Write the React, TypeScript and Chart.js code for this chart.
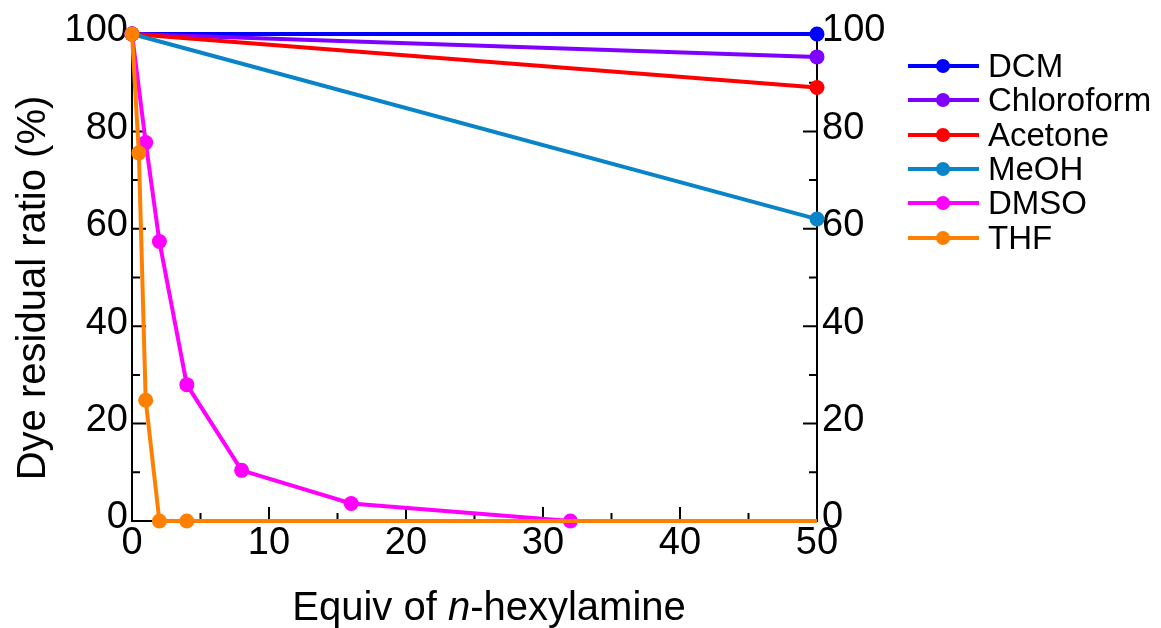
import React, { useEffect, useRef } from "react";
import { Chart, registerables } from "chart.js";
Chart.register(...registerables);

const FONT = "'Liberation Sans', Arial, sans-serif";

const seriesNames = ["DCM", "Chloroform", "Acetone", "MeOH", "DMSO", "THF"];
const seriesColors = ["#0000FF", "#8000FF", "#FF0000", "#0A84C8", "#FF00FF", "#FF8000"];

const dcmX = [0, 50];
const dcmY = [100, 100];
const chloroformX = [0, 50];
const chloroformY = [100, 95.3];
const acetoneX = [0, 50];
const acetoneY = [100, 89];
const meohX = [0, 50];
const meohY = [100, 62];
const dmsoX = [0, 1, 2, 4, 8, 16, 32];
const dmsoY = [100, 77.7, 57.4, 28, 10.4, 3.6, 0];
const thfX = [0, 0.5, 1, 2, 4, 50];
const thfY = [100, 75.6, 24.8, 0, 0, 0];
const thfRadius = [7.5, 7.5, 7.5, 7.5, 7.5, 0];

const seriesX = [dcmX, chloroformX, acetoneX, meohX, dmsoX, thfX];
const seriesY = [dcmY, chloroformY, acetoneY, meohY, dmsoY, thfY];

const xTickStep = 10;
const xMinorStep = 5;
const yTickStep = 20;
const yMinorStep = 10;

const xTitleMain = "Equiv of ";
const xTitleItalic = "n";
const xTitleRest = "-hexylamine";
const yTitle = "Dye residual ratio (%)";

const tickPlugin = {
  id: "inwardTicks",
  beforeDatasetsDraw(chart: any) {
    const ctx = chart.ctx;
    const x = chart.scales.x;
    const y = chart.scales.y;
    const area = chart.chartArea;
    ctx.save();
    ctx.strokeStyle = "#000";
    ctx.lineWidth = 2;
    ctx.beginPath();
    for (let v = xMinorStep; v < 50; v += xMinorStep) {
      const px = x.getPixelForValue(v);
      const len = v % xTickStep === 0 ? 14 : 8;
      ctx.moveTo(px, area.bottom);
      ctx.lineTo(px, area.bottom - len);
    }
    for (let v = yMinorStep; v < 100; v += yMinorStep) {
      const py = y.getPixelForValue(v);
      const len = v % yTickStep === 0 ? 14 : 8;
      ctx.moveTo(area.left, py);
      ctx.lineTo(area.left + len, py);
      ctx.moveTo(area.right, py);
      ctx.lineTo(area.right - len, py);
    }
    ctx.stroke();
    ctx.restore();
  },
};

function ChartCanvas() {
  const ref = useRef<HTMLCanvasElement | null>(null);
  useEffect(() => {
    if (!ref.current) return;
    const datasets = seriesNames.map((name, i) => ({
      label: name,
      data: seriesX[i].map((xv, j) => ({ x: xv, y: seriesY[i][j] })),
      borderColor: seriesColors[i],
      backgroundColor: seriesColors[i],
      pointBackgroundColor: seriesColors[i],
      pointBorderColor: seriesColors[i],
      borderWidth: 4,
      pointRadius: name === "THF" ? thfRadius : 7.5,
      pointHoverRadius: name === "THF" ? thfRadius : 7.5,
      pointBorderWidth: 0,
      tension: 0,
      clip: false as any,
      order: seriesNames.length - 1 - i,
    }));
    const tickFont = { size: 38, family: FONT };
    const chart = new Chart(ref.current, {
      type: "line",
      data: { datasets },
      plugins: [tickPlugin],
      options: {
        animation: false,
        responsive: false,
        events: [],
        layout: { padding: { left: 0, top: 34, right: 244, bottom: 0 } },
        plugins: { legend: { display: false }, tooltip: { enabled: false } },
        scales: {
          x: {
            type: "linear",
            position: "bottom",
            min: 0,
            max: 50,
            ticks: { stepSize: xTickStep, font: tickFont, color: "#000", padding: 0, maxRotation: 0, autoSkip: false },
            grid: { display: false, drawTicks: false },
            border: { display: true, color: "#000", width: 2 },
            afterFit: (s: any) => { s.height = 107; },
          },
          y: {
            type: "linear",
            position: "left",
            min: 0,
            max: 100,
            ticks: { stepSize: yTickStep, font: tickFont, color: "#000", padding: 4, labelOffset: -3 },
            grid: { display: false, drawTicks: false },
            border: { display: true, color: "#000", width: 2 },
            afterFit: (s: any) => { s.width = 132; },
          },
          y2: {
            type: "linear",
            position: "right",
            min: 0,
            max: 100,
            ticks: { stepSize: yTickStep, font: tickFont, color: "#000", padding: 5, labelOffset: -3 },
            grid: { display: false, drawTicks: false },
            border: { display: true, color: "#000", width: 2 },
            afterFit: (s: any) => { s.width = 100; },
          },
        },
      } as any,
    });
    return () => chart.destroy();
  }, []);
  return <canvas ref={ref} width={1161} height={628} style={{ display: "block", width: 1161, height: 628 }} />;
}

const legendRowsY = [66, 100.3, 134.6, 168.9, 203.2, 237.5];

export default function App() {
  return (
    <div style={{ position: "absolute", left: 0, top: 0, width: 1161, height: 628, background: "#fff", fontFamily: FONT, color: "#000" }}>
      <ChartCanvas />
      <div
        style={{
          position: "absolute",
          left: 189,
          top: 586,
          width: 600,
          height: 40,
          lineHeight: "40px",
          fontSize: 40,
          textAlign: "center",
          whiteSpace: "nowrap",
        }}
      >
        {xTitleMain}
        <i>{xTitleItalic}</i>
        {xTitleRest}
      </div>
      <div
        style={{
          position: "absolute",
          left: 31 - 250,
          top: 288 - 20,
          width: 500,
          height: 40,
          lineHeight: "40px",
          fontSize: 40,
          textAlign: "center",
          whiteSpace: "nowrap",
          transform: "rotate(-90deg)",
          transformOrigin: "50% 50%",
        }}
      >
        {yTitle}
      </div>
      {seriesNames.map((name, i) => {
        const cy = legendRowsY[i];
        return (
          <React.Fragment key={name}>
            <div style={{ position: "absolute", left: 908, top: cy - 2, width: 71, height: 4, background: seriesColors[i] }} />
            <div style={{ position: "absolute", left: 943 - 7, top: cy - 7, width: 14, height: 14, borderRadius: "50%", background: seriesColors[i] }} />
            <div style={{ position: "absolute", left: 988, top: cy - 17, height: 34, lineHeight: "34px", fontSize: 33, whiteSpace: "nowrap" }}>{name}</div>
          </React.Fragment>
        );
      })}
    </div>
  );
}
